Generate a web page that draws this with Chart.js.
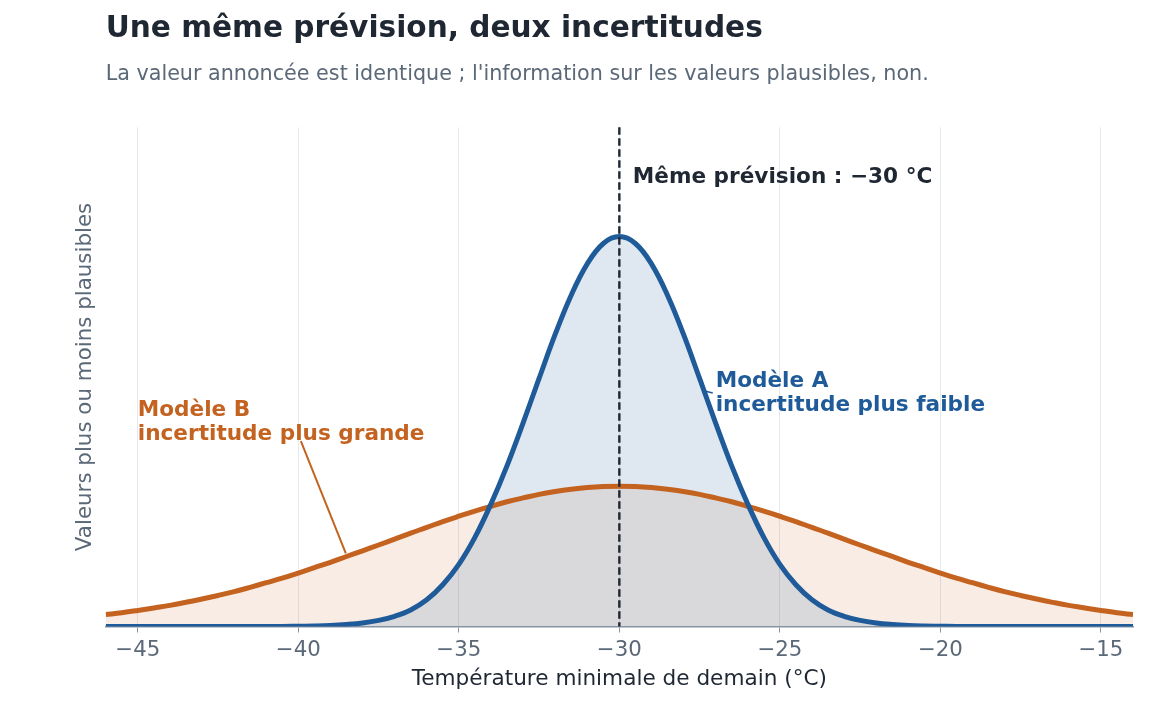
<!DOCTYPE html>
<html><head><meta charset="utf-8">
<script src="https://cdn.jsdelivr.net/npm/chart.js@4.4.1/dist/chart.umd.min.js"></script>
<style>html,body{margin:0;padding:0;background:#fff;} #wrap{width:1167px;height:712px;position:relative;}</style>
</head><body><div id="wrap"><canvas id="c"></canvas></div>
<script>
// ---- Data (every 0.5 °C) ----
const temperatures = [-46,-45.5,-45,-44.5,-44,-43.5,-43,-42.5,-42,-41.5,-41,-40.5,-40,-39.5,-39,-38.5,-38,-37.5,-37,-36.5,
                      -36,-35.5,-35,-34.5,-34,-33.5,-33,-32.5,-32,-31.5,-31,-30.5,-30,
                      -29.5,-29,-28.5,-28,-27.5,-27,-26.5,-26,-25.5,-25,-24.5,-24,-23.5,-23,-22.5,-22,-21.5,-21,-20.5,
                      -20,-19.5,-19,-18.5,-18,-17.5,-17,-16.5,-16,-15.5,-15,-14.5,-14];
const modelA = [0,0,0,0,0,0,0,0,0,0,0,0,0.0001,0.0002,0.0004,0.0008,0.0014,0.0024,0.0040,0.0065,
                0.0105,0.0164,0.0244,0.0350,0.0481,0.0631,0.0799,0.0974,0.1147,0.1301,0.1424,0.1504,0.1531,
                0.1504,0.1424,0.1301,0.1147,0.0974,0.0799,0.0631,0.0481,0.0350,0.0244,0.0164,0.0105,0.0065,0.0040,0.0024,0.0014,0.0008,0.0004,0.0002,
                0.0001,0,0,0,0,0,0,0,0,0,0,0,0];
const modelB = [0.0047,0.0054,0.0063,0.0073,0.0083,0.0095,0.0108,0.0122,0.0137,0.0154,0.0172,0.0190,0.0210,0.0231,0.0252,0.0275,0.0297,0.0320,0.0343,0.0367,
                0.0389,0.0412,0.0433,0.0453,0.0472,0.0490,0.0505,0.0519,0.0530,0.0539,0.0546,0.0550,0.0551,
                0.0550,0.0546,0.0539,0.0530,0.0519,0.0505,0.0490,0.0472,0.0453,0.0433,0.0412,0.0389,0.0367,0.0343,0.0320,0.0297,0.0275,0.0252,0.0231,
                0.0210,0.0190,0.0172,0.0154,0.0137,0.0122,0.0108,0.0095,0.0083,0.0073,0.0063,0.0054,0.0047];
const xTickValues = [-45,-40,-35,-30,-25,-20,-15];
const forecastValue = -30;

const BLUE = '#1f5b99', ORANGE = '#c4621f', DARK = '#1f2733', GRAY = '#5b6878';
const FONT = "'DejaVu Sans', sans-serif";
Chart.defaults.font.family = FONT;

const fmt = v => (v < 0 ? '\u2212' + Math.abs(v) : String(v));

const annotations = {
  forecastText: {x: -29.58, y: 0.1742, text: 'M\u00eame pr\u00e9vision : \u221230 \u00b0C', color: DARK, size: 21.6},
  labelA: {x: -27.0, y: 0.0942, lines: ['Mod\u00e8le A', 'incertitude plus faible'], color: BLUE, size: 21.6,
           leader: [[-27.34, 0.0925], [-27.09, 0.0917]], leaderWidth: 1.5},
  labelB: {x: -45.0, y: 0.0826, lines: ['Mod\u00e8le B', 'incertitude plus grande'], color: ORANGE, size: 21.6,
           leader: [[-39.92, 0.0728], [-38.52, 0.0287]], leaderWidth: 2}
};

const annotPlugin = {
  id: 'annot',
  afterDatasetsDraw(chart) {
    const {ctx, chartArea, scales: {x, y}} = chart;
    ctx.save();
    const px = x.getPixelForValue(forecastValue);
    ctx.strokeStyle = DARK; ctx.lineWidth = 2.4; ctx.setLineDash([7.5, 3.5]);
    ctx.beginPath(); ctx.moveTo(px, chartArea.top); ctx.lineTo(px, chartArea.bottom); ctx.stroke();
    ctx.setLineDash([]);
    const f = annotations.forecastText;
    ctx.font = 'bold ' + f.size + 'px ' + FONT; ctx.fillStyle = f.color;
    ctx.textAlign = 'left'; ctx.textBaseline = 'alphabetic';
    ctx.fillText(f.text, x.getPixelForValue(f.x), y.getPixelForValue(f.y));
    [annotations.labelA, annotations.labelB].forEach(a => {
      ctx.strokeStyle = a.color; ctx.lineWidth = a.leaderWidth;
      ctx.beginPath();
      ctx.moveTo(x.getPixelForValue(a.leader[0][0]), y.getPixelForValue(a.leader[0][1]));
      ctx.lineTo(x.getPixelForValue(a.leader[1][0]), y.getPixelForValue(a.leader[1][1]));
      ctx.stroke();
      ctx.font = 'bold ' + a.size + 'px ' + FONT; ctx.fillStyle = a.color;
      const lx = x.getPixelForValue(a.x), ly = y.getPixelForValue(a.y);
      a.lines.forEach((t, i) => ctx.fillText(t, lx, ly + i * 24.3));
    });
    ctx.restore();
  }
};

new Chart(document.getElementById('c'), {
  type: 'line',
  data: {
    datasets: [
      {label: 'Mod\u00e8le A', data: temperatures.map((t, i) => ({x: t, y: modelA[i]})),
       borderColor: BLUE, backgroundColor: 'rgba(31,91,153,0.14)', borderWidth: 5,
       fill: 'origin', pointRadius: 0, tension: 0.4, borderJoinStyle: 'round'},
      {label: 'Mod\u00e8le B', data: temperatures.map((t, i) => ({x: t, y: modelB[i]})),
       borderColor: ORANGE, backgroundColor: 'rgba(196,98,31,0.12)', borderWidth: 5,
       fill: 'origin', pointRadius: 0, tension: 0.4, borderJoinStyle: 'round'}
    ]
  },
  options: {
    responsive: true, maintainAspectRatio: false, animation: false,
    layout: {padding: {left: 72, right: 34, top: 0, bottom: 14.5}},
    plugins: {
      legend: {display: false}, tooltip: {enabled: false},
      filler: {drawTime: 'beforeDatasetsDraw'},
      title: {display: true, text: 'Une m\u00eame pr\u00e9vision, deux incertitudes', align: 'start', fullSize: false,
              color: DARK, font: {size: 29.6, weight: 'bold'}, padding: {top: 12, bottom: 0}},
      subtitle: {display: true, text: "La valeur annonc\u00e9e est identique ; l'information sur les valeurs plausibles, non.",
                 align: 'start', fullSize: false, color: GRAY, font: {size: 20.7}, padding: {top: 15, bottom: 40}}
    },
    scales: {
      x: {type: 'linear', min: -46, max: -14,
          afterBuildTicks: ax => { ax.ticks = xTickValues.map(v => ({value: v})); },
          ticks: {callback: v => fmt(v), color: GRAY, font: {size: 21.3}, padding: 5, maxRotation: 0, autoSkip: false},
          grid: {color: '#e5e9ee', lineWidth: 1, tickColor: '#8a96a4', tickLength: 6, drawTicks: true},
          border: {display: true, color: '#8a96a4', width: 1.5},
          title: {display: true, text: 'Temp\u00e9rature minimale de demain (\u00b0C)', color: DARK, font: {size: 21.6},
                  padding: {top: -1.5, bottom: 5}}},
      y: {min: 0, max: 0.196, ticks: {display: false}, grid: {display: false, drawTicks: false}, border: {display: false},
          title: {display: true, text: 'Valeurs plus ou moins plausibles', color: GRAY, font: {size: 21.4}, padding: {top: 1, bottom: 7}}}
    }
  },
  plugins: [annotPlugin]
});
</script>
</body></html>
